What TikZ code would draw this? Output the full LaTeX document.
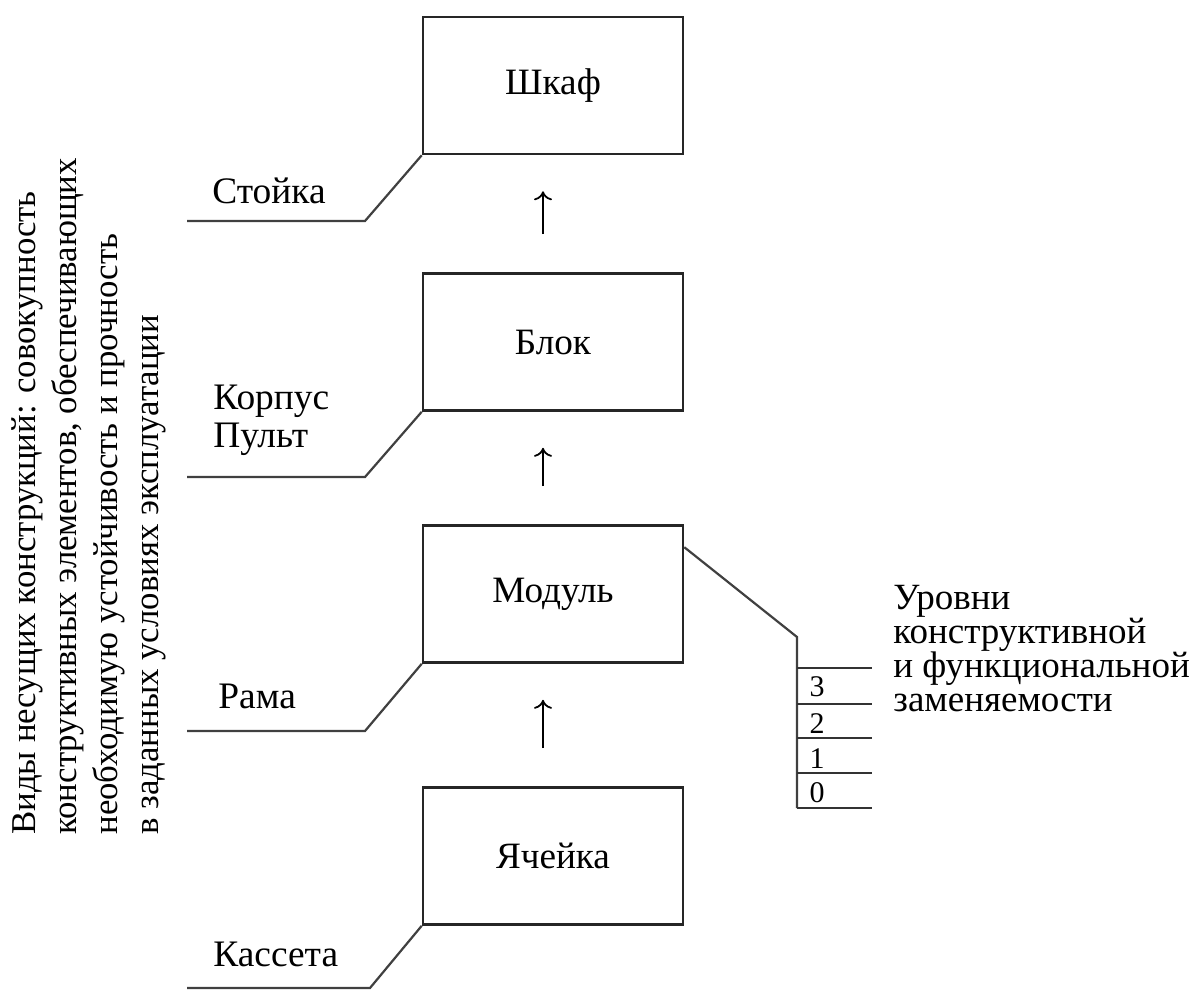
\documentclass[tikz,border=0pt]{standalone}
\usepackage{fontspec}
\setmainfont{Liberation Serif}
\usetikzlibrary{arrows.meta}

\newcommand{\tightlines}{\lineskiplimit=-10pt\relax}

\tikzset{
  levelbox/.style={draw=black!85, line width=1.3pt, minimum width=130pt, minimum height=68.5pt, inner sep=0pt, font=\fontsize{18.6}{22}\selectfont},
  kindlabel/.style={inner sep=0pt, font=\fontsize{18.7}{19}\selectfont},
  leader/.style={draw=black!75, line width=1.1pt},
  uparrow/.style={-{To[length=4.5pt,width=9pt]}, line width=0.9pt, shorten >=18pt, shorten <=19pt},
  scaleline/.style={draw=black!80, line width=1pt}
}

\begin{document}
\begin{tikzpicture}[x=0.5pt,y=-0.5pt]
  \useasboundingbox (0,0) rectangle (1195,992);

  % levels of the hierarchy
  \node[levelbox] (shkaf)   at (553,85.5) {Шкаф};
  \node[levelbox] (blok)    at (553,342)  {Блок};
  \node[levelbox] (modul)   at (553,594)  {Модуль};
  \node[levelbox] (yacheyka) at (553,856) {Ячейка};

  \draw[uparrow] ([xshift=-5pt]blok.north) -- ([xshift=-5pt]shkaf.south);
  \draw[uparrow] ([xshift=-5pt]modul.north) -- ([xshift=-5pt]blok.south);
  \draw[uparrow] ([xshift=-5pt]yacheyka.north) -- ([xshift=-5pt]modul.south);

  % kinds of carrying structures
  \node[kindlabel, anchor=base west] (stoyka) at (212,203) {Стойка};
  \node[kindlabel, anchor=north west, align=left] (korpus) at (213,385) {Корпус\\Пульт};
  \node[kindlabel, anchor=base west] (rama) at (218,708) {Рама};
  \node[kindlabel, anchor=base west] (kasseta) at (213,966) {Кассета};

  \coordinate (stoyka-line) at (187,221);
  \coordinate (korpus-line) at (187,477);
  \coordinate (rama-line) at (187,731);
  \coordinate (kasseta-line) at (187,988);
  \draw[leader] (stoyka-line) -- ++(178,0) -- (shkaf.south west);
  \draw[leader] (korpus-line) -- ++(178,0) -- (blok.south west);
  \draw[leader] (rama-line) -- ++(178,0) -- (modul.south west);
  \draw[leader] (kasseta-line) -- ++(183,0) -- (yacheyka.south west);

  \node[rotate=90, anchor=north west, align=left, inner sep=0pt,
        font=\fontsize{17.4}{20.5}\selectfont] (kinds) at (11,835)
    {Виды несущих конструкций: совокупность\\
     конструктивных элементов, обеспечивающих\\
     необходимую устойчивость и прочность\\
     в заданных условиях эксплуатации};

  % levels of interchangeability
  \coordinate (scale-top) at (797,637);
  \coordinate (scale-bot) at (797,808);
  \draw[leader] ([yshift=-11.5pt]modul.north east) -- (scale-top) -- (scale-bot);
  \foreach \y in {668,704,738,773,808}
    \draw[scaleline] (797,\y) -- (872,\y);
  \node[font=\fontsize{15}{15}\selectfont, inner sep=0pt] (lvl3) at (817,687) {3};
  \node[font=\fontsize{15}{15}\selectfont, inner sep=0pt] (lvl2) at (817,724) {2};
  \node[font=\fontsize{15}{15}\selectfont, inner sep=0pt] (lvl1) at (817,759) {1};
  \node[font=\fontsize{15}{15}\selectfont, inner sep=0pt] (lvl0) at (817,793) {0};

  \node[anchor=north west, align=left, inner sep=0pt,
        font=\fontsize{18.5}{17}\selectfont\tightlines] (urovni) at (893,585)
    {Уровни\\конструктивной\\и функциональной\\заменяемости};
\end{tikzpicture}
\end{document}
